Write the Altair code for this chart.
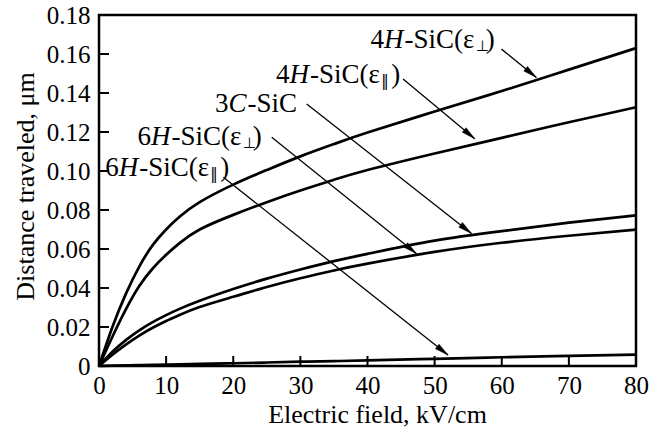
import math
import altair as alt
import pandas as pd

# ---------------- data ----------------
field_kv_cm = [0, 2, 4, 6, 8, 10, 12, 15, 20, 25, 30, 35, 40, 50, 60, 70, 80]
dist_4h_perp = [0, 0.020, 0.037, 0.051, 0.062, 0.070, 0.0765, 0.084, 0.093, 0.1005,
                0.1075, 0.1138, 0.1197, 0.1305, 0.141, 0.152, 0.163]
dist_4h_par = [0, 0.015, 0.029, 0.041, 0.050, 0.057, 0.063, 0.070, 0.0775, 0.084,
               0.090, 0.0955, 0.1005, 0.109, 0.117, 0.125, 0.1327]
dist_3c = [0, 0.0073, 0.0133, 0.0183, 0.0225, 0.0261, 0.0293, 0.0335, 0.0395, 0.0448,
           0.0495, 0.0538, 0.0575, 0.0643, 0.0692, 0.0735, 0.0772]
dist_6h_perp = [0, 0.0058, 0.011, 0.0156, 0.0196, 0.0231, 0.0262, 0.0303, 0.0355, 0.0405,
                0.045, 0.049, 0.0525, 0.0585, 0.0632, 0.0668, 0.0699]
dist_6h_par = [0, 0.00015, 0.0003, 0.00045, 0.0006, 0.0007, 0.0009, 0.0011, 0.0014,
               0.0018, 0.0022, 0.0025, 0.0029, 0.0037, 0.0045, 0.0052, 0.0058]

series_names = ["4H-SiC(ε⊥)", "4H-SiC(ε‖)", "3C-SiC", "6H-SiC(ε⊥)", "6H-SiC(ε‖)"]
series_values = [dist_4h_perp, dist_4h_par, dist_3c, dist_6h_perp, dist_6h_par]

# label pieces: (text, kind) kind: n = normal, i = italic, s = subscript
label_pieces = [
    [("4", "n"), ("H", "i"), ("-SiC(ε", "n"), ("⊥", "s"), (")", "n")],
    [("4", "n"), ("H", "i"), ("-SiC(ε", "n"), ("‖", "s"), (")", "n")],
    [("3", "n"), ("C", "i"), ("-SiC", "n")],
    [("6", "n"), ("H", "i"), ("-SiC(ε", "n"), ("⊥", "s"), (")", "n")],
    [("6", "n"), ("H", "i"), ("-SiC(ε", "n"), ("‖", "s"), (")", "n")],
]
# annotation anchors in data units
label_x = [40.46, 26.37, 17.29, 5.73, 0.92]
label_y = [0.1672, 0.1493, 0.1344, 0.1176, 0.1017]
arrow_x0 = [59.96, 45.3, 30.94, 25.73, 18.53]
arrow_y0 = [0.1625, 0.1472, 0.1344, 0.1173, 0.0968]
arrow_x1 = [65.16, 55.98, 55.49, 47.31, 52.0]
arrow_y1 = [0.1480, 0.1165, 0.0680, 0.0576, 0.0056]

x_ticks = [0, 10, 20, 30, 40, 50, 60, 70, 80]
y_ticks = [0, 0.02, 0.04, 0.06, 0.08, 0.10, 0.12, 0.14, 0.16, 0.18]

# ---------------- layout ----------------
W, H = 537, 351
XMAX, YMAX = 80, 0.18
FONT = "Liberation Serif"
ANN_SIZE = 27
SUB_SIZE = 15

xs = alt.Scale(domain=[0, XMAX], nice=False, zero=True)
ys = alt.Scale(domain=[0, YMAX], nice=False, zero=True)

X_AXIS = alt.Axis(
    values=x_ticks, domain=False, ticks=False, grid=False, labelFlush=False,
    labelFont=FONT, labelFontSize=25, labelColor="black", labelPadding=7,
    title="Electric field, kV/cm", titleFont=FONT, titleFontSize=26,
    titleFontWeight="normal", titleColor="black",
    titleX=278, titleY=56, titleAlign="center", titleBaseline="alphabetic")
Y_AXIS = alt.Axis(
    values=y_ticks, domain=False, ticks=False, grid=False, labelFlush=False,
    labelExpr="datum.value == 0 ? '0' : format(datum.value, '.2f')",
    labelFont=FONT, labelFontSize=25, labelColor="black", labelPadding=9,
    title="Distance traveled, μm", titleFont=FONT, titleFontSize=26,
    titleFontWeight="normal", titleColor="black", titleAngle=270,
    titleX=-66, titleY=171, titleAlign="center", titleBaseline="alphabetic")


def X(f):
    return alt.X(f, scale=xs, axis=X_AXIS, title="Electric field, kV/cm")


def Y(f):
    return alt.Y(f, scale=ys, axis=Y_AXIS, title="Distance traveled, μm")


rows = []
for name, vals in zip(series_names, series_values):
    for xv, yv in zip(field_kv_cm, vals):
        rows.append({"series": name, "field": xv, "dist": yv})
curves_df = pd.DataFrame(rows)

lines = alt.Chart(curves_df).mark_line(
    color="black", strokeWidth=2.7, interpolate="natural"
).encode(x=X("field:Q"), y=Y("dist:Q"), detail="series:N")

# inward ticks
yt_df = pd.DataFrame({"v": y_ticks})
xt_df = pd.DataFrame({"v": x_ticks})
ytick_marks = alt.Chart(yt_df).mark_rule(color="black", strokeWidth=2).encode(
    y=Y("v:Q"), x=alt.value(0), x2=alt.value(10))
xtick_marks = alt.Chart(xt_df).mark_rule(color="black", strokeWidth=2).encode(
    x=X("v:Q"), y=alt.value(H), y2=alt.value(H - 10))

# arrows
px_x = W / XMAX
px_y = H / YMAX
angles = []
for x0, y0, x1, y1 in zip(arrow_x0, arrow_y0, arrow_x1, arrow_y1):
    dxp = (x1 - x0) * px_x
    dyp = (y0 - y1) * px_y
    angles.append(math.degrees(math.atan2(dxp, -dyp)) % 360)
arrows_df = pd.DataFrame({"x0": arrow_x0, "y0": arrow_y0, "x1": arrow_x1,
                          "y1": arrow_y1, "ang": angles})
arrow_lines = alt.Chart(arrows_df).mark_rule(color="black", strokeWidth=1.3).encode(
    x=X("x0:Q"), y=Y("y0:Q"), x2="x1:Q", y2="y1:Q")
arrow_heads = alt.Chart(arrows_df).mark_point(
    shape="M0,0L-0.42,2L0.42,2Z", filled=True, fill="black", stroke="black",
    strokeWidth=0.5, size=190, opacity=1
).encode(x=X("x1:Q"), y=Y("y1:Q"), angle=alt.Angle("ang:Q", scale=None))

# annotation text pieces (offsets in px converted to data units)
em = {"0": 0.5, "1": 0.5, "2": 0.5, "3": 0.5, "4": 0.5, "5": 0.5, "6": 0.5,
      "7": 0.5, "8": 0.5, "9": 0.5, "-": 0.333, "S": 0.556, "i": 0.278,
      "C": 0.667, "(": 0.333, ")": 0.333, "ε": 0.47, "H": 0.722}
seg_rows = []
for lx, ly, pieces in zip(label_x, label_y, label_pieces):
    off = 0.0
    for txt, kind in pieces:
        seg_rows.append({"t": txt, "kind": kind, "x": lx + off / px_x, "y": ly})
        if kind == "s":
            off += 10.0
        else:
            off += sum(em.get(c, 0.5) for c in txt) * ANN_SIZE + (1.0 if kind == "i" else 0.0)
seg_df = pd.DataFrame(seg_rows)


def text_layer(kind, **kw):
    return alt.Chart(seg_df).transform_filter(
        alt.datum.kind == kind
    ).mark_text(align="left", baseline="middle", color="black", **kw).encode(
        x=X("x:Q"), y=Y("y:Q"), text="t:N")


t_normal = text_layer("n", font=FONT, fontSize=ANN_SIZE)
t_italic = text_layer("i", font=FONT, fontSize=ANN_SIZE, fontStyle="italic")
t_sub = text_layer("s", font="DejaVu Sans", fontSize=SUB_SIZE, dy=6)

chart = alt.layer(
    lines, ytick_marks, xtick_marks, arrow_lines, arrow_heads,
    t_normal, t_italic, t_sub
).properties(
    width=W, height=H,
    autosize=alt.AutoSizeParams(type="none"),
    padding={"left": 99, "top": 15, "right": 24, "bottom": 64},
    background="white",
).configure_view(stroke="black", strokeWidth=2.5)

chart.save("out.html", embed_options={"renderer": "svg", "actions": False})
